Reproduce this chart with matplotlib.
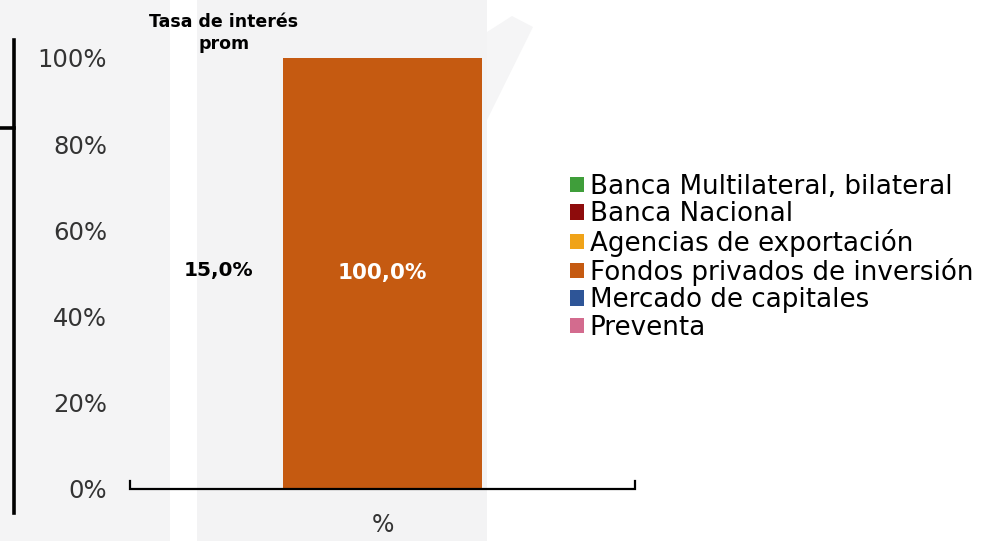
import matplotlib.pyplot as plt
from matplotlib.patches import Patch, Rectangle, Polygon
from matplotlib.lines import Line2D
import numpy as np

plt.rcParams['font.family'] = ['DejaVu Sans']

# financing sources, share of total (%)
fuentes = ["Banca Multilateral, bilateral", "Banca Nacional", "Agencias de exportación",
           "Fondos privados de inversión", "Mercado de capitales", "Preventa"]
porcentajes = [0.0, 0.0, 0.0, 100.0, 0.0, 0.0]
colores = ["#3f9e3a", "#8e0c0c", "#f0a318", "#c55a11", "#2e5597", "#d36b8e"]
categoria = ["%"]
tasa_interes = 15.0
y_ticks = [0, 20, 40, 60, 80, 100]

W, H = 990, 541
fig = plt.figure(figsize=(W / 100, H / 100), dpi=100)
fig.patch.set_facecolor("white")

# faint backdrop panels
fig.patches.append(Rectangle((0, 0), 170 / W, 1, transform=fig.transFigure,
                             facecolor="#f4f4f5", edgecolor="none", zorder=-10))
fig.patches.append(Rectangle((197 / W, 0), 290 / W, 1, transform=fig.transFigure,
                             facecolor="#f3f3f4", edgecolor="none", zorder=-10))
fig.patches.append(Polygon([(487 / W, 1 - 120 / H), (487 / W, 1 - 32 / H), (512 / W, 1 - 16 / H),
                            (533 / W, 1 - 27 / H)], closed=True, transform=fig.transFigure,
                           facecolor="#f5f5f6", edgecolor="none", zorder=-10))

ax = fig.add_axes([130 / W, (H - 489) / H, 505 / W, 431 / H])
ax.set_facecolor("none")

x = np.arange(len(categoria))
bottom = 0
for nombre, val, c in zip(fuentes, porcentajes, colores):
    bars = ax.bar(x, [val], bottom=bottom, width=0.394, color=c, label=nombre)
    if val > 0:
        ax.bar_label(bars, labels=[f"{val:.1f}%".replace(".", ",")], label_type="center",
                     color="white", fontsize=15.5, fontweight="bold")
    bottom += val

ax.set_xlim(-0.5, 0.5)
ax.set_ylim(0, 100)
for s in ax.spines.values():
    s.set_visible(False)

# bottom axis with small upturned ends
ax.plot([0, 0, 1, 1], [0.019, 0, 0, 0.019], transform=ax.transAxes, color="black",
        lw=1.6, clip_on=False, solid_joinstyle="miter")

ax.set_yticks(y_ticks)
ax.set_yticklabels([f"{v}%" for v in y_ticks], fontsize=17.5, color="#333333")
ax.tick_params(axis="y", length=0, pad=16.5)
ax.set_xticks(x)
ax.set_xticklabels(categoria, fontsize=17, color="#333333")
ax.tick_params(axis="x", length=0, pad=17)

# interest rate annotation
fig.text(224 / W, 1 - 33 / H, "Tasa de interés\nprom", ha="center", va="center",
         fontsize=12.5, fontweight="bold", linespacing=1.3)
ax.text(0.176, 0.508, f"{tasa_interes:.1f}%".replace(".", ","), transform=ax.transAxes,
        ha="center", va="center", fontsize=14.5, fontweight="bold", color="black")

# left bracket line
fig.lines.append(Line2D([14 / W, 14 / W], [1 - 40 / H, 1 - 513 / H], transform=fig.transFigure,
                        color="black", lw=2.6))
fig.lines.append(Line2D([0, 14 / W], [1 - 128 / H, 1 - 128 / H], transform=fig.transFigure,
                        color="black", lw=2.6))

handles = [Patch(facecolor=c, edgecolor="none") for c in colores]
fig.legend(handles, fuentes, loc="upper left", bbox_to_anchor=(570 / W, 1 - 174 / H),
           frameon=False, fontsize=18.8, handlelength=0.52, handleheight=0.52,
           handletextpad=0.24, labelspacing=0.05, borderaxespad=0, borderpad=0)

fig.savefig("out.png", dpi=100)
